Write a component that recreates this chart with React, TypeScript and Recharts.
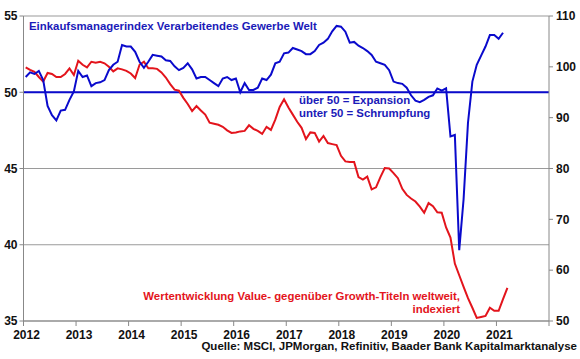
// PMI Verarbeitendes Gewerbe Welt vs. Value/Growth (zwei Y-Achsen)
import { ComposedChart, Line, XAxis, YAxis, CartesianGrid, ReferenceLine } from 'recharts';

const START_YEAR = 2012;
const YEAR_TICKS = [2012, 2013, 2014, 2015, 2016, 2017, 2018, 2019, 2020, 2021, 2022];
const PMI_TICKS = [35, 40, 45, 50, 55];
const VG_TICKS = [50, 60, 70, 80, 90, 100, 110];

// Einkaufsmanagerindex, monatlich ab Jan 2012 (linke Achse)
const PMI = [
  51.0, 51.3, 51.2, 51.4, 50.8, 49.1, 48.5, 48.15, 48.8, 48.85, 49.5, 50.05,
  51.4, 51.0, 51.1, 50.4, 50.6, 50.65, 50.8, 51.45, 51.8, 52.0, 53.1, 53.0,
  53.0, 52.65, 52.0, 51.6, 52.0, 52.45, 52.4, 52.35, 52.1, 52.05, 51.7, 51.45,
  51.6, 51.9, 51.5, 50.9, 51.0, 51.0, 50.8, 50.6, 50.4, 50.9, 51.0, 50.8,
  50.9, 50.0, 50.6, 50.15, 50.15, 50.3, 50.9, 50.8, 51.15, 51.9, 52.0, 52.55,
  52.6, 52.9, 52.8, 52.7, 52.5, 52.5, 52.7, 53.1, 53.25, 53.5, 54.0, 54.35,
  54.3, 53.97, 53.25, 53.3, 53.05, 52.9, 52.7, 52.45, 52.0, 51.9, 51.8, 51.45,
  50.7, 50.6, 50.55, 50.3, 49.8, 49.45, 49.35, 49.5, 49.7, 49.8, 50.25, 50.1,
  50.25, 47.1, 47.2, 39.65, 43.0, 48.0, 50.7, 51.8, 52.4, 53.0, 53.75, 53.75,
  53.5, 53.9,
];

// Value vs. Growth, indexiert, monatlich ab Jan 2012 (rechte Achse)
const VALUE_GROWTH = [
  99.9, 99.4, 99.0, 98.0, 97.1, 98.8, 98.6, 98.0, 98.0, 98.6, 99.7, 98.4,
  101.2, 100.4, 99.9, 101.0, 100.8, 101.0, 100.7, 100.0, 99.1, 99.7, 99.5, 99.2,
  98.7, 97.8, 100.4, 101.0, 99.7, 99.7, 99.6, 98.9, 97.9, 96.6, 95.5, 95.3,
  93.9, 92.7, 91.3, 92.3, 91.4, 90.6, 89.0, 88.8, 88.6, 88.2, 87.5, 87.0,
  87.1, 87.3, 87.4, 88.5, 87.8, 87.4, 86.8, 88.2, 87.6, 89.6, 92.1, 93.6,
  92.0, 90.6, 89.2, 88.0, 85.8, 87.1, 87.0, 85.3, 86.4, 85.0, 84.8, 84.6,
  82.5, 81.4, 81.3, 81.3, 78.3, 77.8, 78.4, 75.9, 76.3, 78.3, 80.1, 80.0,
  79.1, 78.1, 76.0, 74.8, 74.1, 73.5, 72.5, 71.3, 73.2, 72.6, 71.4, 71.3,
  68.4, 66.4, 61.3, 59.0, 56.7, 54.5, 52.6, 50.6, 50.8, 51.0, 52.6, 52.0,
  52.0, 54.3, 56.5,
];

const BLUE = '#0a0acc';
const RED = '#e3141c';
const TEXT_BLUE = '#1a1ab8';
const FONT = '"Liberation Sans", Arial, sans-serif';

const data = VALUE_GROWTH.map((vg, i) => ({
  t: START_YEAR + (i + 0.5) / 12,
  pmi: i < PMI.length ? PMI[i] : null,
  vg,
}));

const tickStyle = { fill: '#111', fontSize: 12, fontWeight: 700, fontFamily: FONT };

export default function App() {
  return (
    <div style={{ position: 'absolute', left: 0, top: 0, width: 580, height: 359, background: '#fff' }}>
      <ComposedChart width={580} height={359} data={data} margin={{ top: 16, right: 0, left: 0, bottom: 17 }}>
        <CartesianGrid yAxisId="left" vertical={false} stroke="#9a9a9a" strokeWidth={1.2} />
        <XAxis
          dataKey="t"
          type="number"
          domain={[2012, 2022]}
          ticks={YEAR_TICKS}
          tickFormatter={(v: number) => (v === 2022 ? '' : String(v))}
          axisLine={{ stroke: '#888' }}
          tickLine={{ stroke: '#888' }}
          tickSize={5}
          tickMargin={4}
          height={21}
          tick={{ ...tickStyle, dx: 3 }}
        />
        <YAxis
          yAxisId="left"
          domain={[35, 55]}
          ticks={PMI_TICKS}
          width={23.5}
          axisLine={{ stroke: '#888' }}
          tickLine={{ stroke: '#888' }}
          tickSize={4}
          tickMargin={2}
          tick={tickStyle}
        />
        <YAxis
          yAxisId="right"
          orientation="right"
          domain={[50, 110]}
          ticks={VG_TICKS}
          width={31}
          axisLine={{ stroke: '#888' }}
          tickLine={{ stroke: '#888' }}
          tickSize={4}
          tickMargin={3}
          tick={tickStyle}
        />
        <ReferenceLine yAxisId="left" y={50} stroke={BLUE} strokeWidth={2} />
        <Line
          yAxisId="right"
          dataKey="vg"
          type="linear"
          stroke={RED}
          strokeWidth={2}
          dot={false}
          isAnimationActive={false}
        />
        <Line
          yAxisId="left"
          dataKey="pmi"
          type="linear"
          stroke={BLUE}
          strokeWidth={2}
          dot={false}
          connectNulls={false}
          isAnimationActive={false}
        />
      </ComposedChart>
      <svg width={580} height={359} style={{ position: 'absolute', left: 0, top: 0, pointerEvents: 'none' }}>
        <g fontFamily={FONT} fontWeight={700} fontSize={11.4}>
          <text x={29} y={30} fill={TEXT_BLUE}>Einkaufsmanagerindex Verarbeitendes Gewerbe Welt</text>
          <text x={299} y={104} fill={TEXT_BLUE}>über 50 = Expansion</text>
          <text x={299} y={117} fill={TEXT_BLUE}>unter 50 = Schrumpfung</text>
          <text x={460} y={300} fill={RED} textAnchor="end">Wertentwicklung Value- gegenüber Growth-Titeln weltweit,</text>
          <text x={460} y={313} fill={RED} textAnchor="end">indexiert</text>
          <text x={577} y={350} fill="#111" textAnchor="end" fontSize={11.5}>Quelle: MSCI, JPMorgan, Refinitiv, Baader Bank Kapitalmarktanalyse</text>
        </g>
      </svg>
    </div>
  );
}
